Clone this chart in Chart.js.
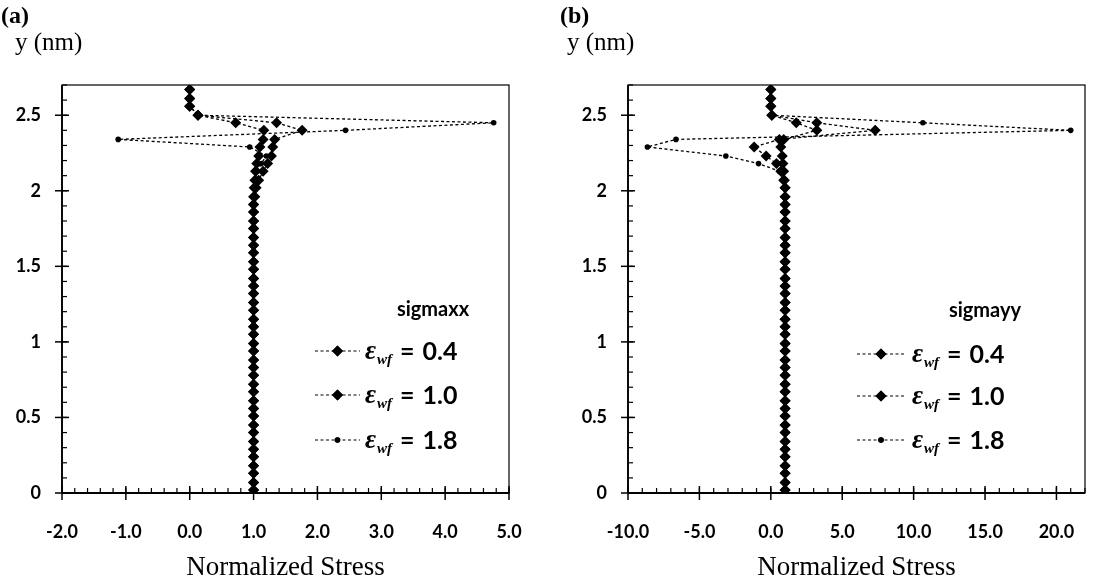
<!DOCTYPE html>
<html lang="en">
<head>
  <meta charset="UTF-8">
  <title>Normalized Stress profiles</title>
  <script src="https://cdn.jsdelivr.net/npm/chart.js"></script>
  <style>
    body {
      margin: 0;
      background-color: #fff;
    }
    .painel {
      position: absolute;
      top: 0;
      height: 586px;
    }
    #painelA { left: 0; width: 555px; }
    #painelB { left: 555px; width: 550px; }
  </style>
</head>
<body>
  <div class="painel" id="painelA"><canvas id="graficoA"></canvas></div>
  <div class="painel" id="painelB"><canvas id="graficoB"></canvas></div>

  <script>
    // y positions (nm), bottom to top, shared by every series
    const yLevels = [
      0.02, 0.07, 0.13, 0.18, 0.24, 0.29, 0.34, 0.40, 0.45, 0.51,
      0.56, 0.61, 0.67, 0.72, 0.78, 0.83, 0.88, 0.94, 0.99, 1.05,
      1.10, 1.15, 1.21, 1.26, 1.32, 1.37, 1.42, 1.48, 1.53, 1.59,
      1.64, 1.69, 1.75, 1.80, 1.86, 1.91, 1.96, 2.02, 2.07, 2.13,
      2.18, 2.23, 2.29, 2.34, 2.40, 2.45, 2.50, 2.56, 2.61, 2.67
    ];

    const strains = ['0.4', '1.0', '1.8'];

    // (a) sigmaxx
    const sxx04 = [
      1.00, 1.00, 1.00, 1.00, 1.00, 1.00, 1.00, 1.00, 1.00, 1.00,
      1.00, 1.00, 1.00, 1.00, 1.00, 1.00, 1.00, 1.00, 1.00, 1.00,
      1.00, 1.00, 1.00, 1.00, 1.00, 1.00, 1.00, 1.00, 1.00, 1.00,
      1.00, 1.00, 1.00, 1.00, 1.00, 1.00, 1.00, 1.01, 1.02, 1.03,
      1.05, 1.08, 1.10, 1.15, 1.16, 0.72, 0.13, 0.00, 0.00, 0.00
    ];
    const sxx10 = [
      1.00, 1.00, 1.00, 1.00, 1.00, 1.00, 1.00, 1.00, 1.00, 1.00,
      1.00, 1.00, 1.00, 1.00, 1.00, 1.00, 1.00, 1.00, 1.00, 1.00,
      1.00, 1.00, 1.00, 1.00, 1.00, 1.00, 1.00, 1.00, 1.00, 1.00,
      1.00, 1.00, 1.00, 1.00, 1.00, 1.00, 1.02, 1.04, 1.08, 1.15,
      1.22, 1.28, 1.30, 1.33, 1.76, 1.36, 0.13, 0.00, 0.00, 0.00
    ];
    const sxx18 = [
      1.00, 1.00, 1.00, 1.00, 1.00, 1.00, 1.00, 1.00, 1.00, 1.00,
      1.00, 1.00, 1.00, 1.00, 1.00, 1.00, 1.00, 1.00, 1.00, 1.00,
      1.00, 1.00, 1.00, 1.00, 1.00, 1.00, 1.00, 1.00, 1.00, 1.00,
      1.00, 1.00, 1.00, 1.00, 1.00, 1.00, 1.00, 1.01, 1.03, 1.06,
      1.12, 1.20, 0.94, -1.12, 2.44, 4.76, 0.13, 0.00, 0.00, 0.00
    ];

    // (b) sigmayy
    const syy04 = [
      1.00, 1.00, 1.00, 1.00, 1.00, 1.00, 1.00, 1.00, 1.00, 1.00,
      1.00, 1.00, 1.00, 1.00, 1.00, 1.00, 1.00, 1.00, 1.00, 1.00,
      1.00, 1.00, 1.00, 1.00, 1.00, 1.00, 1.00, 1.00, 1.00, 1.00,
      1.00, 1.00, 1.00, 1.00, 1.00, 1.00, 1.00, 1.00, 0.95, 0.90,
      0.85, 0.80, 0.70, 0.90, 3.22, 1.78, 0.07, 0.00, 0.00, 0.00
    ];
    const syy10 = [
      1.00, 1.00, 1.00, 1.00, 1.00, 1.00, 1.00, 1.00, 1.00, 1.00,
      1.00, 1.00, 1.00, 1.00, 1.00, 1.00, 1.00, 1.00, 1.00, 1.00,
      1.00, 1.00, 1.00, 1.00, 1.00, 1.00, 1.00, 1.00, 1.00, 1.00,
      1.00, 1.00, 1.00, 1.00, 1.00, 1.00, 1.00, 1.00, 0.90, 0.70,
      0.40, -0.33, -1.17, 0.60, 7.31, 3.22, 0.07, 0.00, 0.00, 0.00
    ];
    const syy18 = [
      1.00, 1.00, 1.00, 1.00, 1.00, 1.00, 1.00, 1.00, 1.00, 1.00,
      1.00, 1.00, 1.00, 1.00, 1.00, 1.00, 1.00, 1.00, 1.00, 1.00,
      1.00, 1.00, 1.00, 1.00, 1.00, 1.00, 1.00, 1.00, 1.00, 1.00,
      1.00, 1.00, 1.00, 1.00, 1.00, 1.00, 1.00, 1.00, 0.90, 0.60,
      -0.86, -3.15, -8.64, -6.64, 21.00, 10.65, 0.07, 0.00, 0.00, 0.00
    ];

    // axis ticks
    const xTicksA = [-2, -1, 0, 1, 2, 3, 4, 5];
    const xTicksB = [-10, -5, 0, 5, 10, 15, 20];
    const yTicks = [0, 0.5, 1, 1.5, 2, 2.5];

    const marcadores = [
      { style: 'rectRot', radius: 5.5 },
      { style: 'rectRot', radius: 5.5 },
      { style: 'circle', radius: 2.8 }
    ];

    function pares(xs) {
      return xs.map((x, i) => ({ x: x, y: yLevels[i] }));
    }

    function montarDatasets(series) {
      return series.map((xs, i) => ({
        label: 'εwf = ' + strains[i],
        data: pares(xs),
        showLine: true,
        borderColor: '#000',
        backgroundColor: '#000',
        borderWidth: 1.3,
        borderDash: [3, 2.5],
        pointStyle: marcadores[i].style,
        pointRadius: marcadores[i].radius,
        pointBorderWidth: 0
      }));
    }

    function linha(ctx, x0, y0, x1, y1) {
      ctx.beginPath();
      ctx.moveTo(x0, y0);
      ctx.lineTo(x1, y1);
      ctx.stroke();
    }

    // frame, minor ticks, panel captions and the legend box
    const moldura = {
      id: 'moldura',
      afterDatasetsDraw(chart, args, o) {
        const { ctx, chartArea: a, scales: { x, y } } = chart;
        ctx.save();
        ctx.strokeStyle = '#000';
        ctx.fillStyle = '#000';
        ctx.setLineDash([]);

        ctx.lineWidth = 1.2;
        ctx.strokeRect(a.left, a.top, a.right - a.left, a.bottom - a.top);
        ctx.lineWidth = 1.8;
        linha(ctx, a.left, a.top, a.left, a.bottom);
        linha(ctx, a.left, a.bottom, a.right, a.bottom);

        ctx.lineWidth = 1.2;
        const nx = Math.round((x.max - x.min) / o.passoX);
        for (let k = 0; k <= nx; k++) {
          const px = x.getPixelForValue(x.min + k * o.passoX);
          linha(ctx, px, a.bottom, px, a.bottom - 5);
        }
        const ny = Math.round((y.max - y.min) / 0.1);
        for (let k = 0; k <= ny; k++) {
          const py = y.getPixelForValue(y.min + k * 0.1);
          linha(ctx, a.left, py, a.left + 5, py);
        }
        ctx.lineWidth = 1.5;
        x.ticks.forEach(t => {
          const px = x.getPixelForValue(t.value);
          linha(ctx, px, a.bottom - 7, px, a.bottom + 7);
        });
        y.ticks.forEach(t => {
          const py = y.getPixelForValue(t.value);
          linha(ctx, a.left - 7, py, a.left + 7, py);
        });

        // captions above the plot
        ctx.textAlign = 'left';
        ctx.textBaseline = 'alphabetic';
        ctx.font = 'bold 24px "Liberation Serif"';
        ctx.fillText(o.painel, o.painelX, 23);
        ctx.font = '25px "Liberation Serif"';
        ctx.fillText('y (nm)', o.eixoX, 50);

        // legend
        ctx.textAlign = 'center';
        ctx.font = 'bold 20px Lato';
        ctx.fillText(o.titulo, o.tituloX, o.tituloY);

        chart.data.datasets.forEach((ds, i) => {
          const cy = o.linhas[i];
          ctx.lineWidth = 1.2;
          ctx.setLineDash([3, 2.5]);
          linha(ctx, o.legX0, cy, o.legX1, cy);
          ctx.setLineDash([]);
          Chart.helpers.drawPoint(ctx, {
            pointStyle: marcadores[i].style,
            radius: marcadores[i].radius,
            borderWidth: 0
          }, (o.legX0 + o.legX1) / 2, cy);
          ctx.fill();

          let tx = o.textoX;
          const base = cy + 8;
          ctx.textAlign = 'left';
          ctx.font = 'bold italic 27px "Liberation Serif"';
          ctx.fillText('ε', tx, base);
          tx += ctx.measureText('ε').width + 1;
          ctx.font = 'bold italic 15px "Liberation Serif"';
          ctx.fillText('wf', tx, base + 5);
          tx += ctx.measureText('wf').width + 8;
          ctx.font = 'bold 25px Lato';
          ctx.fillText('=', tx, base + 1);
          tx += ctx.measureText('=').width + 8;
          ctx.fillText(strains[i], tx, base + 1);
        });
        ctx.restore();
      }
    };

    function gerarGrafico(id, series, xMin, xMax, xTicks, passoX, eixoY, direita, legenda) {
      return new Chart(document.getElementById(id), {
        type: 'scatter',
        data: { datasets: montarDatasets(series) },
        options: {
          responsive: true,
          maintainAspectRatio: false,
          animation: false,
          events: [],
          layout: { padding: { top: 85, right: direita, bottom: 0, left: 0 } },
          scales: {
            x: {
              type: 'linear',
              min: xMin,
              max: xMax,
              afterBuildTicks: s => { s.ticks = xTicks.map(v => ({ value: v })); },
              afterFit: s => { s.height = 93; },
              grid: { display: false, drawTicks: false },
              border: { display: false },
              ticks: {
                callback: v => v.toFixed(1),
                autoSkip: false,
                maxRotation: 0,
                padding: 28,
                color: '#000',
                font: { family: 'Lato', weight: 'bold', size: 18 }
              },
              title: {
                display: true,
                text: 'Normalized Stress',
                color: '#000',
                padding: { top: 0, bottom: 2 },
                font: { family: 'Liberation Serif', size: 27 }
              }
            },
            y: {
              type: 'linear',
              min: 0,
              max: 2.7,
              afterBuildTicks: s => { s.ticks = yTicks.map(v => ({ value: v })); },
              afterFit: s => { s.width = eixoY; },
              grid: { display: false, drawTicks: false },
              border: { display: false },
              ticks: {
                callback: v => String(v),
                autoSkip: false,
                padding: 21,
                color: '#000',
                font: { family: 'Lato', weight: 'bold', size: 18 }
              }
            }
          },
          plugins: {
            legend: { display: false },
            tooltip: { enabled: false },
            moldura: Object.assign({ passoX: passoX }, legenda)
          }
        },
        plugins: [moldura]
      });
    }

    gerarGrafico('graficoA', [sxx04, sxx10, sxx18], -2, 5, xTicksA, 0.2, 62, 46, {
      painel: '(a)', painelX: 1, eixoX: 15,
      titulo: 'sigmaxx', tituloX: 433, tituloY: 316,
      linhas: [351, 395, 440], legX0: 315, legX1: 360, textoX: 365
    });

    gerarGrafico('graficoB', [syy04, syy10, syy18], -10, 22, xTicksB, 1, 73, 20, {
      painel: '(b)', painelX: 5, eixoX: 12,
      titulo: 'sigmayy', tituloX: 430, tituloY: 317,
      linhas: [354, 396, 440], legX0: 302, legX1: 350, textoX: 357
    });
  </script>
</body>
</html>
